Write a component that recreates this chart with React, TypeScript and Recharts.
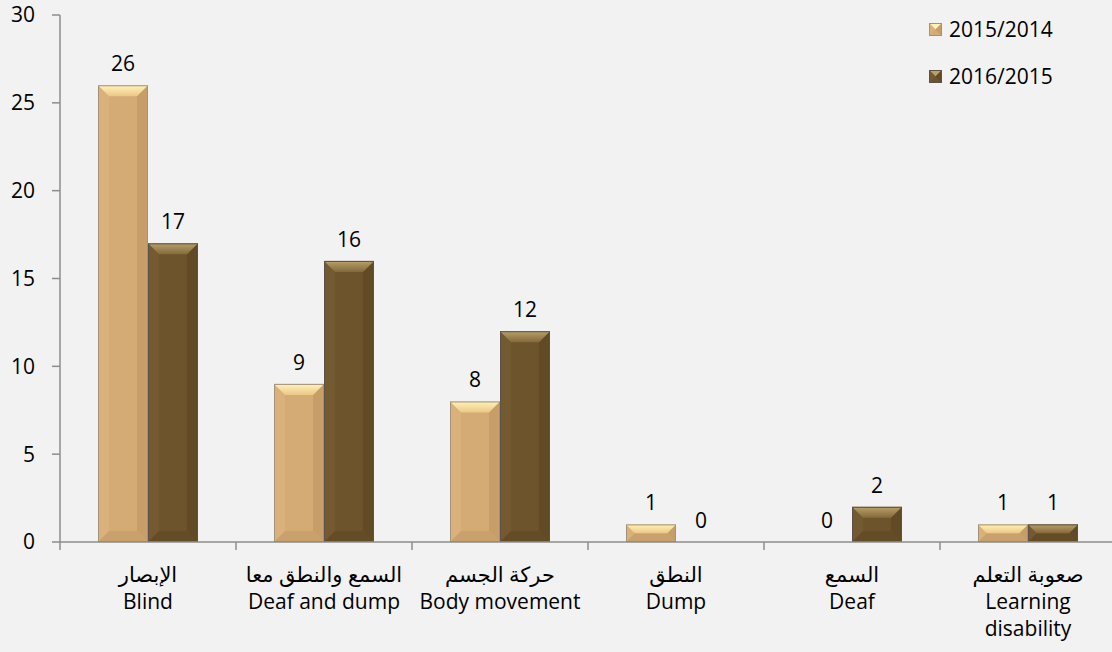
import React from 'react';
import { BarChart, Bar, XAxis, YAxis, LabelList, Legend } from 'recharts';

const categoriesAr = ['الإبصار', 'السمع والنطق معا', 'حركة الجسم', 'النطق', 'السمع', 'صعوبة التعلم'];
const categoriesEn = ['Blind', 'Deaf and dump', 'Body movement', 'Dump', 'Deaf', 'Learning\ndisability'];
const series2014 = [26, 9, 8, 1, 0, 1];
const series2015 = [17, 16, 12, 0, 2, 1];
const seriesNames = ['2015/2014', '2016/2015'];
const yTicks = [0, 5, 10, 15, 20, 25, 30];

const data = categoriesAr.map((ar, i) => ({
  ar,
  en: categoriesEn[i],
  a: series2014[i],
  b: series2015[i],
}));

const FONT = "'Open Sans', 'DejaVu Sans', sans-serif";
const FS = 21;
const AXIS = '#8c8c8c';

type Pal = { face: string; topHi: string; topLo: string; left: string; right: string; bottom: string; edge: string };
const PAL1: Pal = { face: '#d5ab75', topHi: '#fff3b8', topLo: '#ecc787', left: '#dab17b', right: '#c79e69', bottom: '#caa16c', edge: '#a0927c' };
const PAL2: Pal = { face: '#6d542c', topHi: '#b99f68', topLo: '#846a3a', left: '#735a31', right: '#614a25', bottom: '#644c27', edge: '#5a5248' };

const BevelBar = (props: any) => {
  const { x, y, width: w, height: h, pal, gid } = props;
  if (!h || h <= 0.5) return null;
  const b = Math.min(11, h / 2, w / 2);
  const p = (pts: number[][]) => pts.map((q) => q.join(',')).join(' ');
  return (
    <g>
      <defs>
        <linearGradient id={gid} x1="0" y1="0" x2="0" y2="1">
          <stop offset="0" stopColor={pal.topHi} />
          <stop offset="1" stopColor={pal.topLo} />
        </linearGradient>
      </defs>
      <rect x={x} y={y} width={w} height={h} fill={pal.face} />
      <polygon points={p([[x, y], [x + b, y + b], [x + b, y + h - b], [x, y + h]])} fill={pal.left} />
      <polygon points={p([[x + w, y], [x + w, y + h], [x + w - b, y + h - b], [x + w - b, y + b]])} fill={pal.right} />
      <polygon points={p([[x, y + h], [x + b, y + h - b], [x + w - b, y + h - b], [x + w, y + h]])} fill={pal.bottom} />
      <polygon points={p([[x, y], [x + w, y], [x + w - b, y + b], [x + b, y + b]])} fill={`url(#${gid})`} />
      <rect x={x + 0.5} y={y + 0.5} width={w - 1} height={h - 1} fill="none" stroke={pal.edge} strokeWidth={1} />
    </g>
  );
};

const XTick = (props: any) => {
  const { x, y, payload } = props;
  const i = categoriesAr.indexOf(payload.value);
  const enLines = (categoriesEn[i] || '').split('\n');
  const half = 88;
  return (
    <g>
      <line x1={x - half} y1={y} x2={x - half} y2={y + 8} stroke={AXIS} strokeWidth={1.5} />
      <text x={x} y={y + 40} textAnchor="middle" fill="#000" fontSize={FS} fontFamily={FONT}>
        {payload.value}
      </text>
      {enLines.map((ln, k) => (
        <text key={k} x={x} y={y + 67 + k * 27} textAnchor="middle" fill="#000" fontSize={FS} fontFamily={FONT}>
          {ln}
        </text>
      ))}
    </g>
  );
};

const LegendIcon = ({ pal }: { pal: Pal }) => (
  <svg width={13} height={13} style={{ display: 'block' }}>
    <rect x={0} y={0} width={13} height={13} fill={pal.face} />
    <polygon points="0,0 13,0 6.5,6.5" fill={pal.topHi} />
    <polygon points="0,0 6.5,6.5 0,13" fill={pal.left} />
    <polygon points="13,0 13,13 6.5,6.5" fill={pal.right} />
    <rect x={0.5} y={0.5} width={12} height={12} fill="none" stroke={pal.edge} strokeWidth={1} />
  </svg>
);

const LegendContent = () => (
  <div style={{ fontFamily: FONT, fontSize: FS, color: '#000' }}>
    {[PAL1, PAL2].map((pal, i) => (
      <div key={i} style={{ display: 'flex', alignItems: 'center', height: 30, marginBottom: i === 0 ? 17 : 0 }}>
        <LegendIcon pal={pal} />
        <span style={{ marginLeft: 7, lineHeight: '30px' }}>{seriesNames[i]}</span>
      </div>
    ))}
  </div>
);

export default function App() {
  return (
    <div style={{ position: 'absolute', left: 0, top: 0, width: 1112, height: 652, overflow: 'hidden', background: '#f2f2f2' }}>
      <BarChart width={1116} height={652} data={data} margin={{ top: 15, right: 0, bottom: 0, left: 0 }} barGap={0} barSize={50}>
        <XAxis
          dataKey="ar"
          height={110}
          axisLine={{ stroke: AXIS, strokeWidth: 1.5 }}
          tickLine={false}
          tickSize={0}
          tickMargin={0}
          interval={0}
          tick={<XTick />}
        />
        <YAxis
          width={60}
          domain={[0, 30]}
          ticks={yTicks}
          interval={0}
          axisLine={{ stroke: AXIS, strokeWidth: 1.5 }}
          tickLine={{ stroke: AXIS, strokeWidth: 1.5 }}
          tickSize={8}
          tickMargin={17}
          tick={{ fill: '#000', fontSize: FS, fontFamily: FONT }}
        />
        <Legend
          layout="horizontal"
          verticalAlign="middle"
          align="center"
          content={<LegendContent />}
          wrapperStyle={{ position: 'absolute', left: 929, top: 14, width: 180 }}
        />
        <Bar dataKey="a" name={seriesNames[0]} fill={PAL1.face} isAnimationActive={false}
          shape={(p: any) => <BevelBar {...p} pal={PAL1} gid={`g1-${p.index}`} />}>
          <LabelList dataKey="a" position="top" offset={14} fill="#000" fontSize={FS} fontFamily={FONT} />
        </Bar>
        <Bar dataKey="b" name={seriesNames[1]} fill={PAL2.face} isAnimationActive={false}
          shape={(p: any) => <BevelBar {...p} pal={PAL2} gid={`g2-${p.index}`} />}>
          <LabelList dataKey="b" position="top" offset={14} fill="#000" fontSize={FS} fontFamily={FONT} />
        </Bar>
      </BarChart>
    </div>
  );
}
